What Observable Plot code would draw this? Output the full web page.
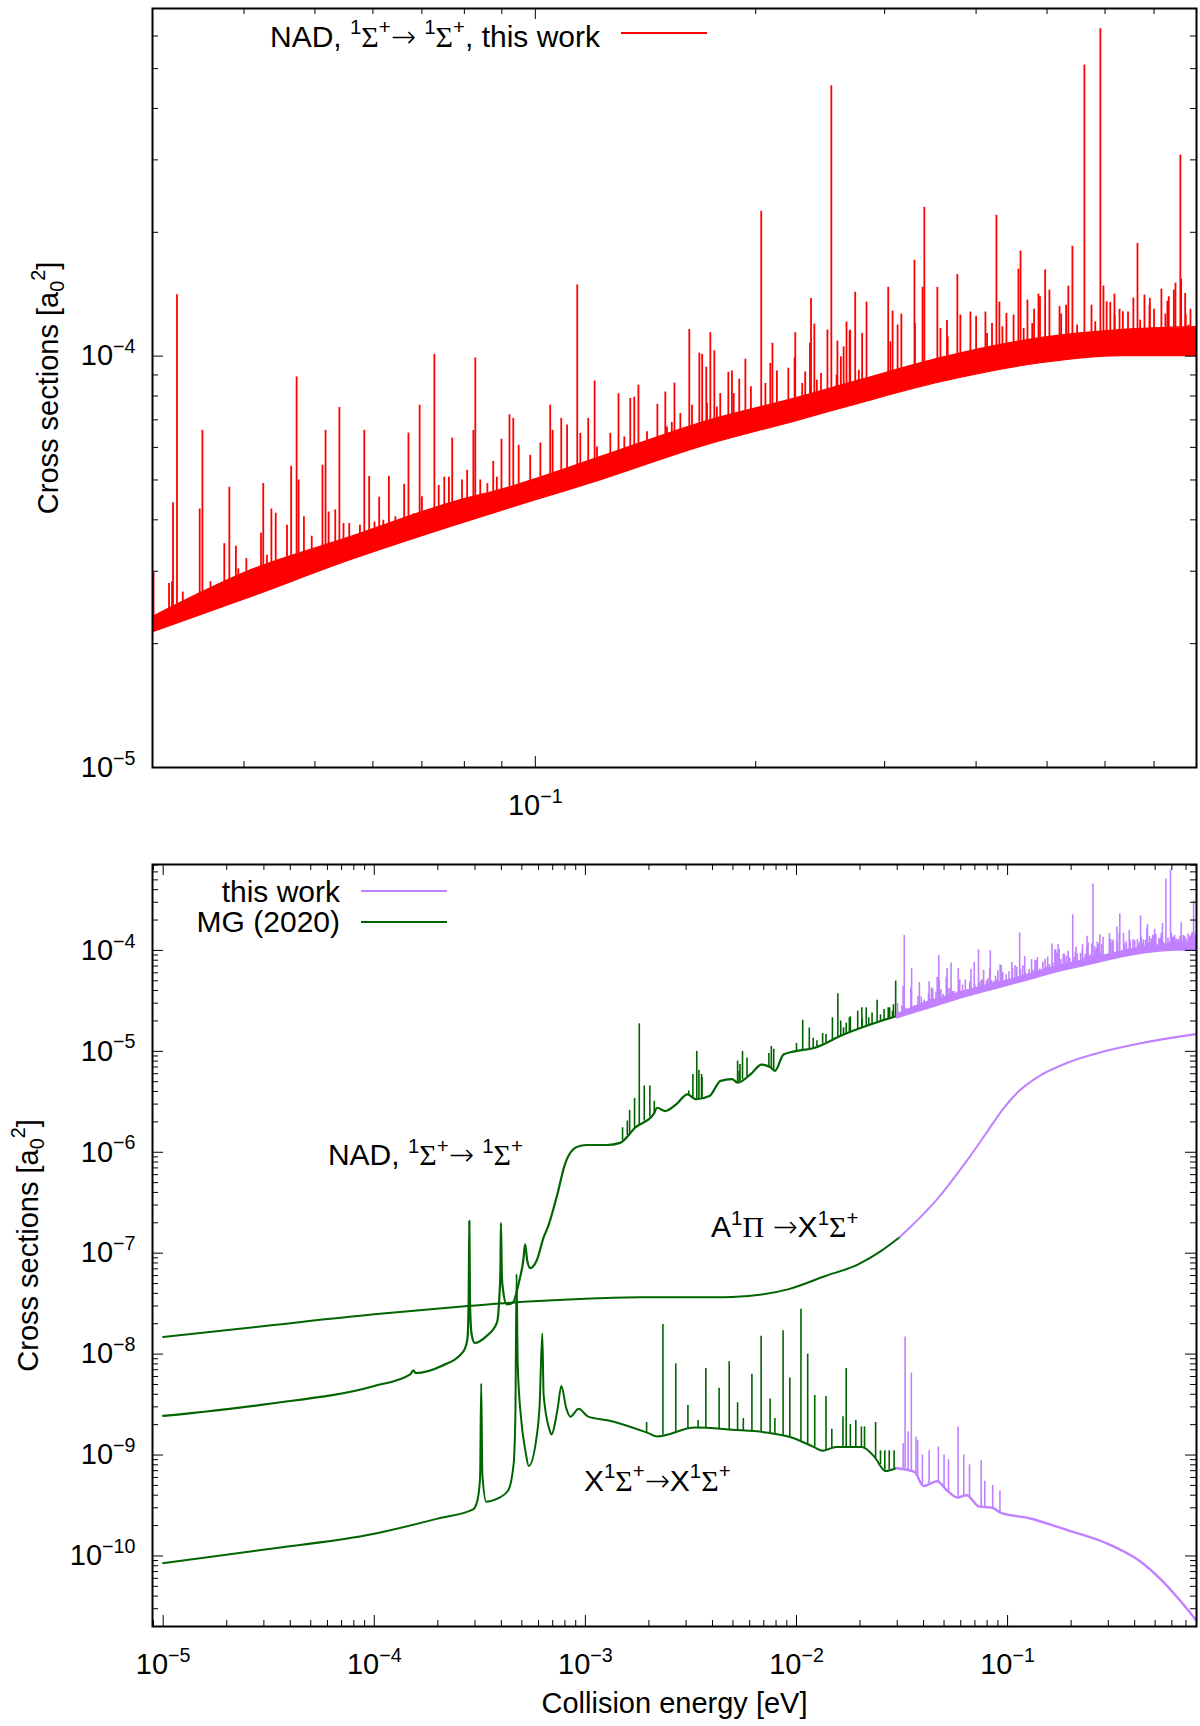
<!DOCTYPE html>
<html>
<head>
<meta charset="utf-8">
<script src="https://cdn.jsdelivr.net/npm/d3@7"></script>
<script src="https://cdn.jsdelivr.net/npm/@observablehq/plot@0.6"></script>
<style>
  body { margin: 0; background: #fff; }
  #chart svg { display: block; }
</style>
</head>
<body>
<div id="chart"></div>
<script>
const RED = "#ff0000", PURPLE = "#c080ff", GREEN = "#006400";
const FONT = "'Liberation Sans', Arial, Helvetica, sans-serif";

// ---- values (energy in eV, cross section in a0^2) ----

// this work, NAD 1Σ+ -> 1Σ+ : lower / upper edge of the dense band
const bandE  = [0.030, 0.0408, 0.0559, 0.0765, 0.0924, 0.1227, 0.168, 0.230, 0.278, 0.358, 0.490, 0.630, 0.800];
const bandLo = [2.13e-5, 2.59e-5, 3.19e-5, 3.84e-5, 4.27e-5, 4.99e-5, 6.01e-5, 6.99e-5, 7.68e-5, 8.64e-5, 9.61e-5, 1.0e-4, 1.0e-4];
const bandHi = [2.32e-5, 3.01e-5, 3.63e-5, 4.39e-5, 4.80e-5, 5.68e-5, 6.87e-5, 7.95e-5, 8.74e-5, 9.89e-5, 1.106e-4, 1.157e-4, 1.176e-4];

// this work, NAD resonance spikes [energy, peak]
const nadSpikes = [
  [0.0301,2.98e-5],[0.0316,2.8e-5],[0.0319,2.83e-5],[0.0320,4.4e-5],[0.0324,1.41e-4],[0.0330,2.67e-5],
  [0.0348,4.25e-5],[0.0351,6.6e-5],[0.0360,2.83e-5],[0.0376,3.5e-5],[0.0382,4.8e-5],[0.0390,3.45e-5],
  [0.0393,3.04e-5],[0.0403,3.22e-5],[0.0422,3.71e-5],[0.0425,4.9e-5],[0.0430,3.28e-5],[0.0436,4.25e-5],
  [0.0442,4.15e-5],[0.0458,3.88e-5],[0.0464,5.4e-5],[0.0472,8.9e-5],[0.0475,5.0e-5],[0.0483,4.07e-5],
  [0.0495,3.65e-5],[0.0512,5.43e-5],[0.0517,6.6e-5],[0.0522,4.18e-5],[0.0533,4.23e-5],[0.0540,7.5e-5],
  [0.0547,3.92e-5],[0.0557,3.92e-5],[0.0576,3.88e-5],[0.0584,6.6e-5],[0.0593,5.1e-5],[0.0603,3.95e-5],
  [0.0612,4.54e-5],[0.0620,3.99e-5],[0.0631,5.1e-5],[0.0644,4.07e-5],[0.0662,4.88e-5],[0.0671,6.5e-5],
  [0.0682,4.14e-5],[0.0695,7.6e-5],[0.0700,4.55e-5],[0.0728,1.01e-4],[0.0738,4.85e-5],[0.0751,5.08e-5],
  [0.0762,5.08e-5],[0.0770,6.32e-5],[0.0794,5.0e-5],[0.0807,5.28e-5],[0.0823,6.6e-5],[0.0828,9.9e-5],
  [0.0841,5.0e-5],[0.0860,4.9e-5],[0.0876,5.55e-5],[0.0886,5.08e-5],[0.0899,6.28e-5],[0.0922,7.2e-5],
  [0.0933,7.06e-5],[0.0949,6.07e-5],[0.0984,5.74e-5],[0.1016,6.15e-5],[0.1048,7.6e-5],[0.1056,6.6e-5],
  [0.1085,7.06e-5],[0.1105,6.8e-5],[0.1141,1.49e-4],[0.1152,6.49e-5],[0.1181,7.06e-5],[0.1205,8.7e-5],
  [0.1214,6.01e-5],[0.1266,6.49e-5],[0.1299,8.1e-5],[0.1323,6.36e-5],[0.1348,7.89e-5],[0.1365,7.95e-5],
  [0.1383,8.5e-5],[0.1421,6.55e-5],[0.1468,7.64e-5],[0.1505,8.18e-5],[0.1513,6.73e-5],[0.1536,6.9e-5],
  [0.1549,8.6e-5],[0.1578,7.25e-5],[0.1623,1.16e-4],[0.1637,7.6e-5],[0.1675,1.017e-4],[0.1690,1.01e-4],
  [0.1712,9.4e-5],[0.1716,7.67e-5],[0.1734,1.14e-4],[0.1756,1.03e-4],[0.1770,7.52e-5],[0.1789,8.11e-5],
  [0.1835,9.14e-5],[0.1856,9.2e-5],[0.1866,8.11e-5],[0.1899,8.79e-5],[0.1936,9.83e-5],[0.1970,8.42e-5],
  [0.2035,2.25e-4],[0.2062,8.58e-5],[0.2094,9.6e-5],[0.2108,1.075e-4],[0.2138,9.2e-5],[0.2216,9.35e-5],
  [0.2260,9.9e-5],[0.2265,1.14e-4],[0.2315,8.58e-5],[0.2337,9.16e-5],[0.2372,1.075e-4],[0.2380,1.38e-4],
  [0.2405,1.196e-4],[0.2424,8.74e-5],[0.2456,9.07e-5],[0.2506,1.157e-4],[0.2537,4.54e-4],[0.2579,8.99e-5],
  [0.2586,1.088e-4],[0.2614,9.96e-5],[0.2637,1.053e-4],[0.2661,1.21e-4],[0.2687,1.15e-4],[0.2692,1.157e-4],
  [0.2735,1.43e-4],[0.2766,9.24e-5],[0.2795,1.135e-4],[0.2834,1.353e-4],[0.3034,1.47e-4],[0.3055,1.083e-4],
  [0.3076,1.287e-4],[0.3125,1.19e-4],[0.3162,1.265e-4],[0.3295,1.71e-4],[0.3300,1.20e-4],[0.3380,1.47e-4],
  [0.3399,2.30e-4],[0.3541,1.47e-4],[0.3576,1.168e-4],[0.3650,1.22e-4],[0.3658,1.114e-4],[0.3771,1.58e-4],
  [0.3807,1.258e-4],[0.3929,1.28e-4],[0.4000,1.25e-4],[0.4119,1.28e-4],[0.4140,1.135e-4],[0.4205,1.20e-4],
  [0.4264,2.20e-4],[0.4304,1.353e-4],[0.4345,1.178e-4],[0.4400,1.27e-4],[0.4500,1.258e-4],[0.4569,1.627e-4],
  [0.4600,1.80e-4],[0.4645,1.168e-4],[0.4701,1.369e-4],[0.4772,1.20e-4],[0.4800,1.30e-4],[0.4867,1.415e-4],
  [0.4890,1.394e-4],[0.4970,1.62e-4],[0.5037,1.447e-4],[0.5200,1.32e-4],[0.5227,1.266e-4],[0.5308,1.33e-4],
  [0.5346,1.48e-4],[0.5415,1.85e-4],[0.5496,1.19e-4],[0.5623,5.1e-4],[0.5750,1.33e-4],[0.5818,1.212e-4],
  [0.5913,6.25e-4],[0.5970,1.48e-4],[0.6031,1.355e-4],[0.6100,1.35e-4],[0.6180,1.415e-4],[0.6186,1.258e-4],
  [0.6280,1.30e-4],[0.6346,1.282e-4],[0.6450,1.28e-4],[0.6559,1.384e-4],[0.6645,1.88e-4],[0.6700,1.223e-4],
  [0.6792,1.407e-4],[0.6900,1.33e-4],[0.6909,1.382e-4],[0.7000,1.30e-4],[0.7164,1.455e-4],[0.7254,1.266e-4],
  [0.7300,1.36e-4],[0.7332,1.394e-4],[0.7450,1.447e-4],[0.7488,1.505e-4],[0.7604,3.08e-4],[0.7623,1.539e-4],
  [0.7720,1.42e-4],[0.7734,1.258e-4],[0.7800,1.19e-4],[0.7850,1.30e-4]
];

// MG (2020), NAD 1Σ+ -> 1Σ+
const mgNad = [
  [1e-5,2.44e-9],[3.03e-5,3.18e-9],[1e-4,4.83e-9],[1.48e-4,6.3e-9],[1.53e-4,6.9e-9],[1.57e-4,6.5e-9],
  [2.07e-4,7.6e-9],[2.64e-4,1.06e-8],[2.76e-4,1.4e-8],[2.80e-4,3.5e-8],[2.82e-4,2.09e-7],[2.84e-4,3.2e-8],
  [2.89e-4,1.58e-8],[2.99e-4,1.29e-8],[3.39e-4,1.5e-8],[3.81e-4,2.05e-8],[3.91e-4,3.6e-8],[3.96e-4,7e-8],
  [3.98e-4,2.0e-7],[4.02e-4,6e-8],[4.06e-4,4.55e-8],[4.24e-4,3.11e-8],[4.52e-4,3.23e-8],[4.86e-4,5.3e-8],
  [5.08e-4,8.5e-8],[5.18e-4,1.22e-7],[5.30e-4,8.5e-8],[5.48e-4,7.1e-8],[5.87e-4,8.4e-8],[6.36e-4,1.46e-7],
  [6.66e-4,1.84e-7],[7.33e-4,3.68e-7],[8.0e-4,7.6e-7],[8.76e-4,1.07e-6],[9.5e-4,1.16e-6],[1.02e-3,1.18e-6],
  [1.26e-3,1.18e-6],[1.46e-3,1.24e-6],[1.72e-3,1.75e-6],[2.1e-3,2.37e-6],[2.19e-3,2.76e-6],[2.38e-3,2.56e-6],
  [2.7e-3,3.0e-6],[3.04e-3,3.75e-6],[3.35e-3,3.35e-6],[3.87e-3,3.6e-6],[4.37e-3,5.1e-6],[4.95e-3,5.3e-6],
  [5.26e-3,4.9e-6],[6.05e-3,5.9e-6],[6.83e-3,7.4e-6],[7.5e-3,7.0e-6],[7.9e-3,6.4e-6],[8.68e-3,9.3e-6],
  [9.8e-3,1.0e-5],[1.21e-2,1.08e-5],[1.67e-2,1.47e-5],[2.51e-2,2.0e-5],[2.96e-2,2.23e-5]
];
const mgNadSpikes = [
  [1.50e-3,1.75e-6],[1.58e-3,2.04e-6],[1.62e-3,2.6e-6],[1.71e-3,3.42e-6],[1.80e-3,1.87e-5],[1.90e-3,4.53e-6],
  [2.02e-3,4.53e-6],[2.12e-3,3.2e-6],[3.09e-3,4.04e-6],[3.23e-3,5.9e-6],[3.37e-3,1.0e-5],[3.45e-3,6.5e-6],
  [3.55e-3,5.9e-6],[3.57e-3,5.5e-6],[5.26e-3,8.0e-6],[5.35e-3,6.3e-6],[5.40e-3,7.4e-6],[5.55e-3,1.0e-5],
  [5.83e-3,8.6e-6],[7.4e-3,9.5e-6],[7.6e-3,1.12e-5],[7.8e-3,1.05e-5],[1.0e-2,1.2e-5],[1.07e-2,2.03e-5],
  [1.15e-2,1.7e-5],[1.2e-2,1.35e-5],[1.25e-2,1.27e-5],[1.33e-2,1.5e-5],[1.38e-2,1.47e-5],[1.48e-2,2.15e-5],
  [1.57e-2,3.71e-5],[1.62e-2,2.0e-5],[1.67e-2,1.71e-5],[1.72e-2,1.9e-5],[1.78e-2,2.15e-5],[1.8e-2,2.2e-5],
  [1.95e-2,2.5e-5],[2.04e-2,2.7e-5],[2.05e-2,2.1e-5],[2.14e-2,2.7e-5],[2.20e-2,2.15e-5],[2.28e-2,2.4e-5],
  [2.41e-2,3.2e-5],[2.5e-2,2.3e-5],[2.6e-2,2.6e-5],[2.72e-2,2.7e-5],[2.76e-2,2.7e-5],[2.85e-2,2.5e-5],
  [2.88e-2,2.9e-5],[2.95e-2,4.97e-5]
];

// A1Π -> X1Σ+
const mgAX = [
  [1e-5,1.48e-8],[3.03e-5,1.90e-8],[1e-4,2.48e-8],[2.77e-4,2.99e-8],[5.1e-4,3.30e-8],[1e-3,3.54e-8],
  [1.82e-3,3.66e-8],[2.45e-3,3.66e-8],[4.2e-3,3.66e-8],[4.95e-3,3.68e-8],[9.1e-3,4.38e-8],[1.36e-2,5.9e-8],
  [1.97e-2,7.8e-8],[2.51e-2,1.05e-7],[3.08e-2,1.44e-7]
];
const twAX = [
  [0.0308,1.44e-7],[0.0463,3.41e-7],[0.064,8.2e-7],[0.0784,1.50e-6],[0.0961,2.76e-6],[0.1132,4.04e-6],
  [0.1387,5.56e-6],[0.192,7.7e-6],[0.288,1.0e-5],[0.432,1.21e-5],[0.796,1.49e-5]
];

// X1Σ+ -> X1Σ+
const mgXX = [
  [1e-5,8.5e-11],[3.03e-5,1.16e-10],[1e-4,1.66e-10],[2.07e-4,2.39e-10],[2.94e-4,2.9e-10],[3.05e-4,3.3e-10],
  [3.10e-4,3.8e-10],[3.17e-4,6e-10],[3.21e-4,5.1e-9],[3.25e-4,6.5e-10],[3.39e-4,3.45e-10],[3.71e-4,3.6e-10],
  [4.29e-4,4.4e-10],[4.57e-4,8.1e-10],[4.66e-4,2.5e-9],[4.72e-4,6.2e-8],[4.78e-4,8e-9],[4.95e-4,2.4e-9],
  [5.2e-4,1.1e-9],[5.39e-4,7.8e-10],[5.87e-4,1.5e-9],[6.07e-4,3.14e-9],[6.25e-4,1.6e-8],[6.34e-4,3.97e-9],
  [6.76e-4,1.78e-9],[6.9e-4,1.6e-9],[7.39e-4,2.9e-9],[7.69e-4,4.83e-9],[8.12e-4,2.9e-9],[8.5e-4,2.4e-9],
  [9.29e-4,2.88e-9],[1.03e-3,2.4e-9],[1.29e-3,2.2e-9],[1.97e-3,1.66e-9],[2.19e-3,1.53e-9],[3.3e-3,1.87e-9],
  [4.95e-3,1.78e-9],[7.4e-3,1.66e-9],[9.4e-3,1.5e-9],[1.21e-2,1.2e-9],[1.33e-2,1.1e-9],[1.54e-2,1.2e-9],
  [2.04e-2,1.2e-9],[2.34e-2,9.6e-10],[2.64e-2,6.95e-10],[2.96e-2,7.4e-10]
];
const mgXXSpikes = [
  [1.95e-3,2.1e-9],[2.33e-3,1.97e-8],[2.68e-3,8.0e-9],[3.06e-3,3.1e-9],[3.42e-3,2.2e-9],[3.72e-3,7.2e-9],
  [4.3e-3,4.6e-9],[4.8e-3,8.4e-9],[5.26e-3,3.3e-9],[5.6e-3,2.3e-9],[6.15e-3,6.3e-9],[6.8e-3,1.5e-8],
  [7.5e-3,3.6e-9],[7.9e-3,2.3e-9],[8.64e-3,1.7e-8],[9.3e-3,5.8e-9],[1.05e-2,2.78e-8],[1.13e-2,1.0e-8],
  [1.22e-2,3.9e-9],[1.38e-2,3.8e-9],[1.47e-2,1.8e-9],[1.66e-2,2.4e-9],[1.72e-2,7.2e-9],[1.8e-2,2.0e-9],
  [1.91e-2,2.2e-9],[2.03e-2,1.9e-9],[2.1e-2,1.9e-9],[2.37e-2,2.1e-9],[2.5e-2,1.1e-9],[2.62e-2,1.1e-9],
  [2.75e-2,1.1e-9],[2.9e-2,1.1e-9]
];
const twXX = [
  [0.0298,7.4e-10],[0.0362,6.8e-10],[0.040,4.93e-10],[0.0463,5.5e-10],[0.052,4.4e-10],[0.0577,3.8e-10],
  [0.064,4.0e-10],[0.073,3.1e-10],[0.085,3.0e-10],[0.092,2.7e-10],[0.128,2.35e-10],[0.192,1.8e-10],
  [0.288,1.36e-10],[0.432,8.6e-11],[0.53,5.9e-11],[0.65,3.7e-11],[0.796,2.2e-11]
];
const twXXSpikes = [
  [0.0320,1.3e-9],[0.0327,1.48e-8],[0.0338,1.7e-9],[0.0350,6.5e-9],[0.0368,1.5e-9],[0.0375,1.4e-9],
  [0.0395,1.0e-9],[0.0425,1.1e-9],[0.0470,1.2e-9],[0.0500,1.0e-9],[0.0525,9e-10],[0.0583,1.9e-9],
  [0.0620,1.0e-9],[0.0660,8e-10],[0.0750,8.8e-10],[0.0780,5.5e-10],[0.0850,5e-10],[0.0920,4.4e-10]
];

// axes
const topXDomain = [0.03, 0.8], topYDomain = [1e-5, 7e-4];
const botXDomain = [8.9e-6, 0.785], botYDomain = [2e-11, 7.1e-4];
const topXMajor = [0.1];
const topYMajor = [1e-5, 1e-4];
const botXMajor = [1e-5, 1e-4, 1e-3, 1e-2, 1e-1];
const botYMajor = [1e-10, 1e-9, 1e-8, 1e-7, 1e-6, 1e-5, 1e-4];

// texts (^{..} superscript, _{..} subscript)
const yTitle = "Cross sections [a_{0}^{2}]";
const xTitle = "Collision energy [eV]";
const topLegend = "NAD, ^{1}Σ^{+}→ ^{1}Σ^{+}, this work";
const botLegend = ["this work", "MG (2020)"];
const botLabels = [
  {E: 6.03e-5, s: 7.46e-7, t: "NAD, ^{1}Σ^{+}→ ^{1}Σ^{+}"},
  {E: 3.94e-3, s: 1.44e-7, t: "A^{1}Π →X^{1}Σ^{+}"},
  {E: 9.84e-4, s: 4.4e-10, t: "X^{1}Σ^{+}→X^{1}Σ^{+}"}
];

// ---- helpers ----
function logInterp(pts) {
  const s = d3.scaleLog().domain(pts.map(p => p[0])).range(pts.map(p => Math.log10(p[1]))).clamp(true);
  return e => 10 ** s(e);
}
const bandTop = logInterp(bandE.map((e, i) => [e, bandHi[i]]));
const band = bandE.map((E, i) => ({E, lo: bandLo[i], hi: bandHi[i]}));
const spikeRows = (list, foot) => list.map(([E, p]) => ({E, foot: foot(E), peak: p}));
const nadRows = spikeRows(nadSpikes, bandTop);
const mgNadRows = spikeRows(mgNadSpikes, logInterp(mgNad));
const mgXXRows = spikeRows(mgXXSpikes, logInterp(mgXX));
const twXXRows = spikeRows(twXXSpikes, logInterp(twXX));

function minorTicks(majors, domain) {
  const decades = [majors[0] / 10, ...majors];
  const out = [];
  for (const d of decades) for (let m = 2; m <= 9; m++) {
    const v = m * d;
    if (v >= domain[0] * 0.999 && v <= domain[1] * 1.001) out.push(v);
  }
  return out;
}

const pow10 = d => `10^{−${Math.round(-Math.log10(d))}}`;

function frameTicks(xMaj, xMin, yMaj, yMin, w, h) {
  const s = {stroke: "black", strokeWidth: 1};
  return [
    Plot.ruleX(xMin, {x: d => d, insetTop: h - 6, ...s}),
    Plot.ruleX(xMin, {x: d => d, insetBottom: h - 6, ...s}),
    Plot.ruleX(xMaj, {x: d => d, insetTop: h - 11, ...s}),
    Plot.ruleX(xMaj, {x: d => d, insetBottom: h - 11, ...s}),
    Plot.ruleY(yMin, {y: d => d, insetRight: w - 6, ...s}),
    Plot.ruleY(yMin, {y: d => d, insetLeft: w - 6, ...s}),
    Plot.ruleY(yMaj, {y: d => d, insetRight: w - 11, ...s}),
    Plot.ruleY(yMaj, {y: d => d, insetLeft: w - 11, ...s})
  ];
}

// turn ^{..} / _{..} into raised / lowered tspans; Greek in a serif face, long arrow
function richText(svg) {
  d3.select(svg).selectAll("text").each(function () {
    const s = this.textContent;
    if (!/[\^_]\{|[ΣΠ→]/.test(s)) return;
    const fs = parseFloat(getComputedStyle(this).fontSize);
    const re = /([\^_])\{([^}]*)\}/g;
    const parts = [];
    let last = 0, m;
    while ((m = re.exec(s))) {
      if (m.index > last) parts.push(["", s.slice(last, m.index)]);
      parts.push([m[1], m[2]]);
      last = re.lastIndex;
    }
    if (last < s.length) parts.push(["", s.slice(last)]);
    const el = d3.select(this).text(null);
    let cur = 0;
    for (const [k, t] of parts) {
      const target = k === "^" ? -0.42 * fs : k === "_" ? 0.24 * fs : 0;
      const span = el.append("tspan").attr("dy", target - cur);
      if (k) span.attr("font-size", 0.68 * fs);
      for (const chunk of t.split(/([ΣΠ→])/)) {
        if (!chunk) continue;
        const c = span.append("tspan").text(chunk);
        if (/[ΣΠ]/.test(chunk)) c.attr("font-family", "'Liberation Serif', 'DejaVu Serif', serif");
        if (chunk === "→") c.attr("font-family", "'DejaVu Sans', sans-serif").attr("font-weight", 300);
      }
      cur = target;
    }
  });
}

// ---- top panel ----
const topW = 1044, topH = 759;
const topChart = Plot.plot({
  width: 1200, height: 836,
  marginTop: 8, marginBottom: 69, marginLeft: 152, marginRight: 4,
  style: {fontFamily: FONT, background: "white"},
  x: {type: "log", domain: topXDomain, axis: null, label: null},
  y: {type: "log", domain: topYDomain, axis: null, label: null},
  marks: [
    Plot.areaY(band, {x: "E", y1: "lo", y2: "hi", fill: RED, stroke: RED, strokeWidth: 1.2, curve: "monotone-x", clip: true}),
    Plot.ruleX(nadRows, {x: "E", y1: "foot", y2: "peak", stroke: RED, strokeWidth: 1.8, clip: true}),
    ...frameTicks(topXMajor, minorTicks(topXMajor, topXDomain), topYMajor, minorTicks(topYMajor, topYDomain), topW, topH),
    Plot.axisX({ticks: topXMajor, tickSize: 0, tickPadding: 27, tickFormat: pow10, fontSize: 29, label: null}),
    Plot.axisY({ticks: topYMajor, tickSize: 0, tickPadding: 17, tickFormat: pow10, fontSize: 29, label: null}),
    Plot.frame({stroke: "black", strokeWidth: 2}),
    Plot.text([0], {frameAnchor: "left", dx: -95, rotate: -90, lineAnchor: "bottom", textAnchor: "middle", text: () => yTitle, fontSize: 29})
  ]
});

// ---- bottom panel ----
const botW = 1044, botH = 762;
const bottomChart = Plot.plot({
  width: 1200, height: 890,
  marginTop: 28, marginBottom: 100, marginLeft: 152, marginRight: 4,
  style: {fontFamily: FONT, background: "white"},
  x: {type: "log", domain: botXDomain, axis: null, label: null},
  y: {type: "log", domain: botYDomain, axis: null, label: null},
  marks: [
    Plot.line(mgAX, {x: d => d[0], y: d => d[1], stroke: GREEN, strokeWidth: 2, curve: "monotone-x", clip: true}),
    Plot.line(mgXX, {x: d => d[0], y: d => d[1], stroke: GREEN, strokeWidth: 2, curve: "monotone-x", clip: true}),
    Plot.ruleX(mgXXRows, {x: "E", y1: "foot", y2: "peak", stroke: GREEN, strokeWidth: 1.6, clip: true}),
    Plot.line(mgNad, {x: d => d[0], y: d => d[1], stroke: GREEN, strokeWidth: 2.2, curve: "monotone-x", clip: true}),
    Plot.ruleX(mgNadRows, {x: "E", y1: "foot", y2: "peak", stroke: GREEN, strokeWidth: 1.6, clip: true}),
    Plot.line(twAX, {x: d => d[0], y: d => d[1], stroke: PURPLE, strokeWidth: 2, curve: "monotone-x", clip: true}),
    Plot.line(twXX, {x: d => d[0], y: d => d[1], stroke: PURPLE, strokeWidth: 2.4, curve: "monotone-x", clip: true}),
    Plot.ruleX(twXXRows, {x: "E", y1: "foot", y2: "peak", stroke: PURPLE, strokeWidth: 1.6, clip: true}),
    Plot.areaY(band, {x: "E", y1: "lo", y2: "hi", fill: PURPLE, stroke: PURPLE, strokeWidth: 1.5, curve: "monotone-x", clip: true}),
    Plot.ruleX(nadRows, {x: "E", y1: "foot", y2: "peak", stroke: PURPLE, strokeWidth: 1.6, clip: true}),
    ...frameTicks(botXMajor, minorTicks(botXMajor, botXDomain), botYMajor, minorTicks(botYMajor, botYDomain), botW, botH),
    Plot.axisX({ticks: botXMajor, tickSize: 0, tickPadding: 27, tickFormat: pow10, fontSize: 29, label: null}),
    Plot.axisY({ticks: botYMajor, tickSize: 0, tickPadding: 17, tickFormat: pow10, fontSize: 29, label: null}),
    Plot.frame({stroke: "black", strokeWidth: 2}),
    Plot.text(botLabels, {x: "E", y: "s", text: "t", textAnchor: "start", lineAnchor: "bottom", fontSize: 30}),
    Plot.text([0], {frameAnchor: "left", dx: -115, rotate: -90, lineAnchor: "bottom", textAnchor: "middle", text: () => yTitle, fontSize: 29}),
    Plot.text([0], {frameAnchor: "bottom", dy: 86, lineAnchor: "bottom", text: () => xTitle, fontSize: 29})
  ]
});

const chart = document.getElementById("chart");
chart.append(topChart, bottomChart);

// legends
function legendEntry(svg, label, textX, baseY, lineY, color) {
  const g = d3.select(svg).append("g");
  g.append("text").attr("x", textX).attr("y", baseY).attr("text-anchor", "end")
    .attr("font-size", 30).attr("fill", "black").text(label);
  g.append("line").attr("x1", textX + 21).attr("x2", textX + 107).attr("y1", lineY).attr("y2", lineY)
    .attr("stroke", color).attr("stroke-width", 2);
}
legendEntry(topChart, topLegend, 600, 47, 33, RED);
legendEntry(bottomChart, botLegend[0], 340, 66, 55, PURPLE);
legendEntry(bottomChart, botLegend[1], 340, 96, 86, GREEN);

richText(topChart);
richText(bottomChart);
</script>
</body>
</html>
